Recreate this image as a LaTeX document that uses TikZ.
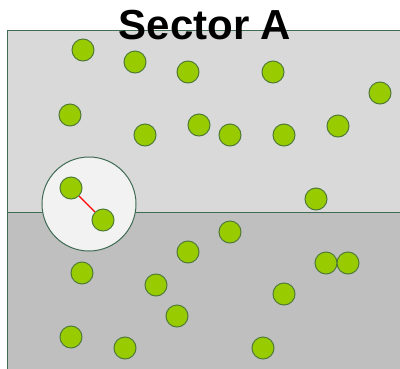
\documentclass[tikz,border=0pt]{standalone}
\usepackage{fontspec}
\setmainfont{Liberation Sans}
\definecolor{topgrey}{HTML}{D9D9D9}
\definecolor{lowgrey}{HTML}{BFBFBF}
\definecolor{edgegreen}{HTML}{3F6B55}
\definecolor{ballfill}{HTML}{99CC00}
\definecolor{balledge}{HTML}{4F7A3A}
\definecolor{lensfill}{HTML}{F2F2F2}
\begin{document}
\begin{tikzpicture}[x=1pt,y=-1pt,
  ball/.style={circle,draw=balledge,fill=ballfill,line width=1pt,minimum size=22pt,inner sep=0pt},
  region/.style={draw=edgegreen,line width=1pt}]
\useasboundingbox (0,0) rectangle (400,368);
% two zones
\fill[topgrey] (7.5,30) rectangle (402,212);
\fill[lowgrey] (7.5,212) rectangle (402,370);
\draw[region] (402,30) -- (7.5,30) -- (7.5,370);
\draw[region] (7.5,212) -- (402,212);
% magnified lens
\node[circle,draw=edgegreen,fill=lensfill,line width=1pt,minimum size=94pt,inner sep=0pt] (lens) at (89,204) {};
% particles
\foreach \n/\x/\y in {1/83/50,2/135/62,3/188/72,4/273/72,5/380/93,6/70/115,7/145/135,
  8/199/125,9/230/135,10/284/135,11/338/126,12/316/199,15/230/232,16/188/252,
  17/326/263,18/348/263,19/82/273,20/156/285,21/284/294,22/177/316,23/71/337,
  24/125/348,25/263/348}
  \node[ball] (p\n) at (\x,\y) {};
\node[ball] (p13) at (71,188) {};
\node[ball] (p14) at (103,220) {};
\draw[red,line width=1.2pt] (p13) -- (p14);
% title
\node[font=\bfseries\fontsize{42}{46}\selectfont,anchor=base] (title) at (205,39) {Sector A};
\end{tikzpicture}
\end{document}
